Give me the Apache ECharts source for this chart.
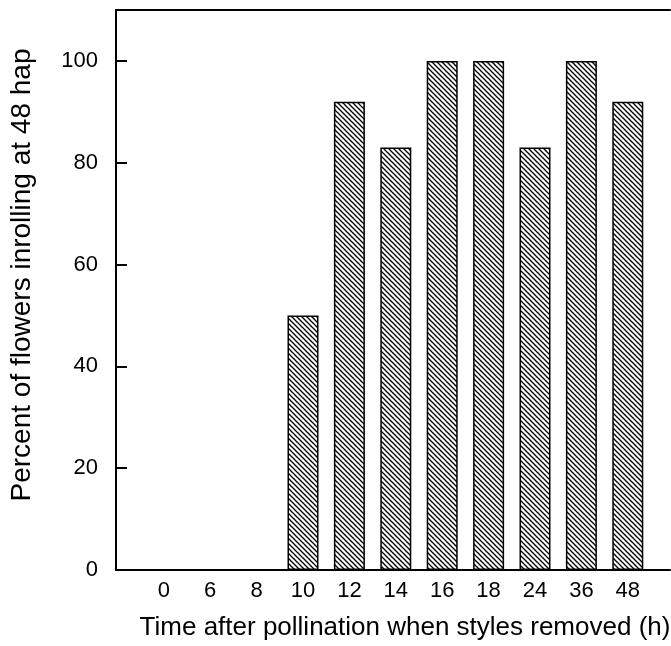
<!DOCTYPE html>
<html lang="en">
<head>
    <meta charset="utf-8" />
    <title>Inrolling after style removal</title>
    <script type="text/javascript" src="https://cdn.jsdelivr.net/npm/echarts@6/dist/echarts.min.js"></script>
    <style>
        html, body { margin: 0; padding: 0; background: #fff; }
        #chart { width: 671px; height: 646px; }
    </style>
</head>
<body>
    <div id="chart"></div>
    <script type="text/javascript">
        // hours after pollination and percent inrolling
        var hours = ['0', '6', '8', '10', '12', '14', '16', '18', '24', '36', '48'];
        var percent = [0, 0, 0, 50, 92, 83, 100, 100, 83, 100, 92];
        var yTicks = [0, 20, 40, 60, 80, 100];

        // hatch fill: thin diagonal lines running top-left to bottom-right
        function hatch() {
            var s = 5;
            var c = document.createElement('canvas');
            c.width = s;
            c.height = s;
            var ctx = c.getContext('2d');
            ctx.fillStyle = '#fff';
            ctx.fillRect(0, 0, s, s);
            ctx.strokeStyle = '#000';
            ctx.lineWidth = 1.3;
            for (var k = -1; k <= 1; k++) {
                ctx.beginPath();
                ctx.moveTo(-1, -1 + k * s);
                ctx.lineTo(s + 1, s + 1 + k * s);
                ctx.stroke();
            }
            return c;
        }

        var chart = echarts.init(document.getElementById('chart'));
        var font = 'Liberation Sans, Arial, sans-serif';

        var option = {
            animation: false,
            backgroundColor: '#fff',
            grid: [
                { left: 116, right: 1, top: 10, bottom: 76 },
                { left: 140.6, width: 510.4, top: 10, bottom: 76 }
            ],
            xAxis: [{
                gridIndex: 0, type: 'value', min: 0, max: 1,
                axisLine: { show: true, lineStyle: { color: '#000', width: 2 } },
                axisTick: { show: false }, axisLabel: { show: false }, splitLine: { show: false }
            }, {
                gridIndex: 0, type: 'value', min: 0, max: 1, position: 'top',
                axisLine: { show: true, lineStyle: { color: '#000', width: 2 } },
                axisTick: { show: false }, axisLabel: { show: false }, splitLine: { show: false }
            }, {
                gridIndex: 1, type: 'category', data: hours,
                axisLine: { show: false }, axisTick: { show: false },
                axisLabel: { color: '#000', fontSize: 22, fontFamily: font, margin: 10 }
            }],
            yAxis: [{
                gridIndex: 0, type: 'value', min: 0, max: 110,
                axisLine: { show: true, lineStyle: { color: '#000', width: 2 } },
                axisTick: { show: true, inside: true, length: 11, customValues: yTicks,
                    lineStyle: { color: '#000', width: 2 } },
                axisLabel: { color: '#000', fontSize: 22, fontFamily: font, margin: 18, customValues: yTicks },
                splitLine: { show: false }
            }, {
                gridIndex: 1, type: 'value', min: 0, max: 110, show: false
            }],
            graphic: [{
                type: 'text', x: 22, y: 275, rotation: Math.PI / 2,
                style: {
                    text: 'Percent of flowers inrolling at 48 hap',
                    fill: '#000', fontSize: 28, fontFamily: font,
                    align: 'center', verticalAlign: 'middle'
                }
            }, {
                type: 'text', x: 405, y: 628,
                style: {
                    text: 'Time after pollination when styles removed (h)',
                    fill: '#000', fontSize: 26, fontFamily: font,
                    align: 'center', verticalAlign: 'middle'
                }
            }],
            series: [{
                type: 'bar', xAxisIndex: 2, yAxisIndex: 1,
                data: percent, barWidth: 31,
                itemStyle: {
                    color: { image: hatch(), repeat: 'repeat' },
                    borderColor: '#000', borderWidth: 1.5
                }
            }]
        };

        chart.setOption(option);
    </script>
</body>
</html>
